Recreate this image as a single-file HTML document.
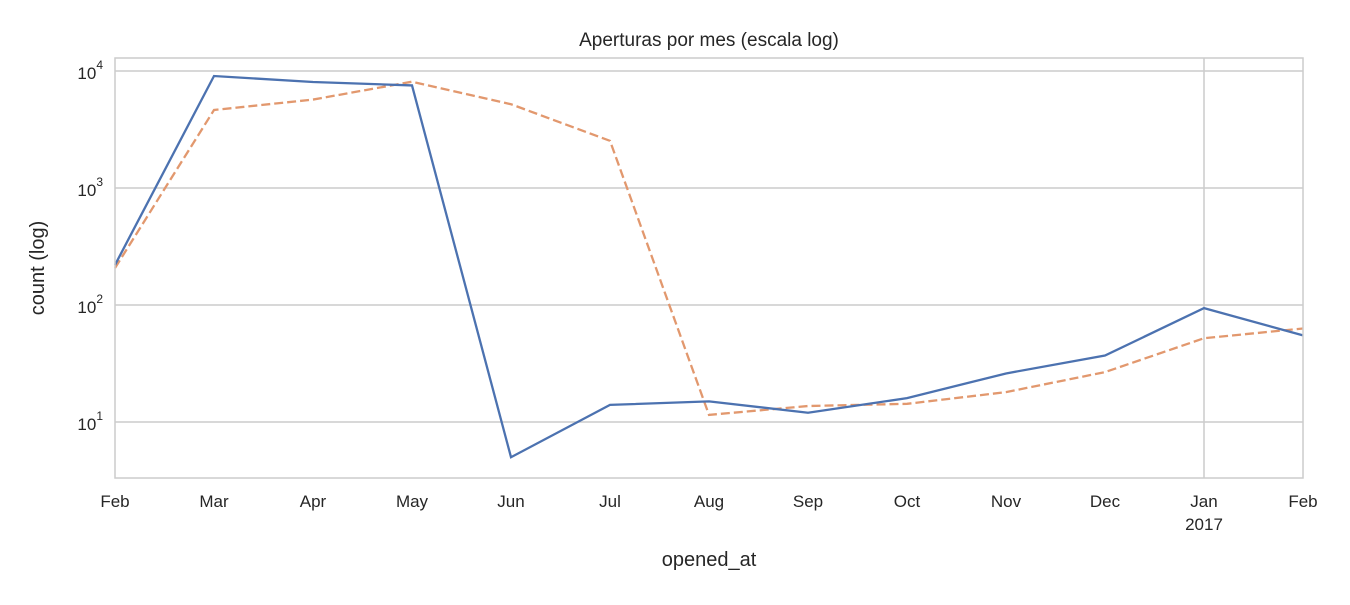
<!DOCTYPE html>
<html><head><meta charset="utf-8"><style>
html,body{margin:0;padding:0;background:#fff;}
svg text{font-family:"Liberation Sans",Arial,sans-serif;fill:#262626;}
</style></head><body>
<svg id="chart" width="1350" height="600" xmlns="http://www.w3.org/2000/svg">
<text x="709" y="46" font-size="19" text-anchor="middle">Aperturas por mes (escala log)</text>
<g id="grid"></g>
<g id="series"></g>
<rect x="115" y="58" width="1188" height="420" fill="none" stroke="#cccccc" stroke-width="1.5"/>
<g id="ticks"></g>
<text x="709" y="566" font-size="20" text-anchor="middle">opened_at</text>
<text transform="translate(44,268) rotate(-90)" font-size="20" text-anchor="middle">count (log)</text>
</svg>
<script>
const months = ["Feb","Mar","Apr","May","Jun","Jul","Aug","Sep","Oct","Nov","Dec","Jan","Feb"];
const seriesA = [220,9060,8050,7530,5.0,14,15,12,16,26,37,94,55];
const seriesB = [207,4640,5700,8100,5200,2530,11.5,13.7,14.3,18,26.7,52,63];
const yTickExps = [1,2,3,4];

const X0=115, X1=1303, Y0=58, Y1=478;
const x = i => X0 + i*(X1-X0)/(months.length-1);
const y = v => 422 - (Math.log10(v)-1)*117;
const NS="http://www.w3.org/2000/svg";
const grid=document.getElementById('grid'), ticks=document.getElementById('ticks'), ser=document.getElementById('series');

yTickExps.forEach(e=>{
  const yy=y(Math.pow(10,e));
  const l=document.createElementNS(NS,'line');
  l.setAttribute('x1',X0);l.setAttribute('x2',X1);l.setAttribute('y1',yy);l.setAttribute('y2',yy);
  l.setAttribute('stroke','#cccccc');l.setAttribute('stroke-width','1.5');
  
  
  grid.appendChild(l);
  const t=document.createElementNS(NS,'text');
  t.setAttribute('x',X0-12);t.setAttribute('y',yy+8);t.setAttribute('font-size','17');t.setAttribute('text-anchor','end');
  t.innerHTML='10<tspan dy="-10" font-size="12">'+e+'</tspan>';
  
  
  ticks.appendChild(t);
});
const jx=x(11);
const vl=document.createElementNS(NS,'line');
vl.setAttribute('x1',jx);vl.setAttribute('x2',jx);vl.setAttribute('y1',Y0);vl.setAttribute('y2',Y1);
vl.setAttribute('stroke','#cccccc');vl.setAttribute('stroke-width','1.5');


grid.appendChild(vl);

months.forEach((m,i)=>{
  const t=document.createElementNS(NS,'text');
  t.setAttribute('x',x(i));t.setAttribute('y',507);t.setAttribute('font-size','17');t.setAttribute('text-anchor','middle');
  t.textContent=m;
  
  
  ticks.appendChild(t);
});
const yr=document.createElementNS(NS,'text');
yr.setAttribute('x',jx);yr.setAttribute('y',530);yr.setAttribute('font-size','17');yr.setAttribute('text-anchor','middle');
yr.textContent='2017';


ticks.appendChild(yr);

function drawLine(vals,color,dash,name){
  const p=document.createElementNS(NS,'polyline');
  p.setAttribute('points',vals.map((v,i)=>x(i)+','+y(v)).join(' '));
  p.setAttribute('fill','none');p.setAttribute('stroke',color);p.setAttribute('stroke-width','2.3');
  if(dash)p.setAttribute('stroke-dasharray',dash);
  
  
  ser.appendChild(p);
}
drawLine(seriesB,'#e2986e','9,4','series-b-line');
drawLine(seriesA,'#4c72b0',null,'series-a-line');
</script>
</body></html>
